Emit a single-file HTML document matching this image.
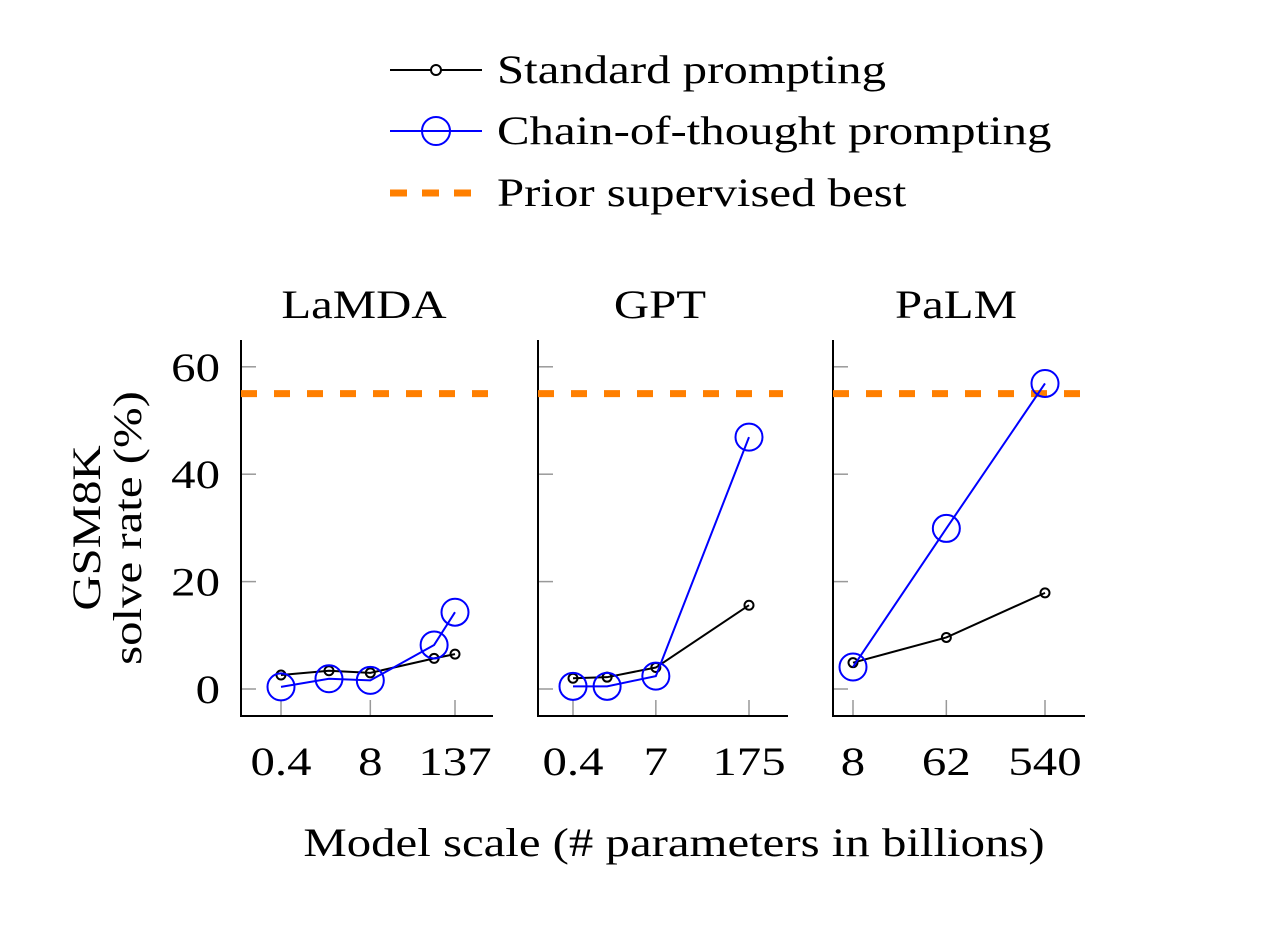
<!DOCTYPE html>
<html><head><meta charset="utf-8"><style>
body{margin:0;background:#fff}
svg{display:block}
text{font-family:"Liberation Serif",serif;fill:#000}
</style></head><body>
<svg id="chart" width="1262" height="940" viewBox="0 0 1262 940">
<g>
 <g>
  <line x1="390" y1="70" x2="482" y2="70" stroke="#000" stroke-width="2"/>
  <circle cx="436" cy="70" r="5" fill="#fff" stroke="#000" stroke-width="2"/>
  <text x="497" y="83" font-size="40">Standard prompting</text>
 </g>
 <g>
  <line x1="390" y1="131" x2="482" y2="131" stroke="#00f" stroke-width="2"/>
  <circle cx="436" cy="131" r="14" fill="none" stroke="#00f" stroke-width="2"/>
  <text x="497" y="144" font-size="40">Chain-of-thought prompting</text>
 </g>
 <g>
  <line x1="390" y1="193" x2="482" y2="193" stroke="#ff7f00" stroke-width="7" stroke-dasharray="17,15"/>
  <text x="497" y="206" font-size="40">Prior supervised best</text>
 </g>
</g>
<g id="panels"></g>
<text x="674" y="856" font-size="40" text-anchor="middle">Model scale (# parameters in billions)</text>
<g transform="translate(100,528) rotate(-90)">
 <text x="0" y="0" font-size="40" text-anchor="middle">GSM8K</text>
 <text x="0" y="41" font-size="40" text-anchor="middle">solve rate (%)</text>
</g>
</svg>
<script>
const panelNames = ["LaMDA","GPT","PaLM"];
const lamdaScale = [0.4,2,8,68,137];
const lamdaStd = [2.6,3.4,3.0,5.7,6.5];
const lamdaCot = [0.4,1.9,1.6,8.2,14.3];
const lamdaTicks = [0.4,8,137];
const gptScale = [0.4,1.3,7,175];
const gptStd = [2.0,2.2,4.0,15.6];
const gptCot = [0.5,0.5,2.4,46.9];
const gptTicks = [0.4,7,175];
const palmScale = [8,62,540];
const palmStd = [4.9,9.6,17.9];
const palmCot = [4.1,29.9,56.9];
const palmTicks = [8,62,540];
const priorBest = [55,55,55];
const yTicks = [0,20,40,60];

const NS="http://www.w3.org/2000/svg";
const root=document.getElementById('panels');
function mk(tag,attrs,parent){const e=document.createElementNS(NS,tag);for(const k in attrs)e.setAttribute(k,attrs[k]);parent.appendChild(e);return e;}
const yS=v=>689-v*5.37;
const panels=[
 {name:panelNames[0],left:241,right:493,x0:281,x1:455,lo:0.4,hi:137,xs:lamdaScale,std:lamdaStd,cot:lamdaCot,ticks:lamdaTicks,pb:priorBest[0]},
 {name:panelNames[1],left:538,right:788,x0:573,x1:749,lo:0.4,hi:175,xs:gptScale,std:gptStd,cot:gptCot,ticks:gptTicks,pb:priorBest[1]},
 {name:panelNames[2],left:833,right:1085,x0:853,x1:1045,lo:8,hi:540,xs:palmScale,std:palmStd,cot:palmCot,ticks:palmTicks,pb:priorBest[2]}
];
panels.forEach(p=>{
 const xS=v=>p.x0+(Math.log10(v)-Math.log10(p.lo))/(Math.log10(p.hi)-Math.log10(p.lo))*(p.x1-p.x0);
 const g=mk('g',{},root);
 
 
 const t=mk('text',{x:(p.left+p.right)/2-3,y:318,'font-size':40,'text-anchor':'middle'},g);t.textContent=p.name;
 
 
 yTicks.forEach(v=>{
  const l=mk('line',{x1:p.left,x2:p.left+15,y1:yS(v),y2:yS(v),stroke:'#999','stroke-width':1.5},g);
  
  
  if(p.left===241){const tl=mk('text',{x:220,y:yS(v)+14,'font-size':40,'text-anchor':'end'},g);tl.textContent=v;
   
   }
 });
 p.ticks.forEach(v=>{
  const l=mk('line',{x1:xS(v),x2:xS(v),y1:716,y2:700,stroke:'#999','stroke-width':1.5},g);
  
  
  const tl=mk('text',{x:xS(v),y:775,'font-size':40,'text-anchor':'middle'},g);tl.textContent=v;
  
  
 });
 const ax=mk('path',{d:`M${p.left},340 V716 H${p.right}`,fill:'none',stroke:'#000','stroke-width':2},g);
 
 
 const d=mk('line',{x1:p.left,x2:p.right-5,y1:yS(p.pb),y2:yS(p.pb),stroke:'#ff7f00','stroke-width':7,'stroke-dasharray':'16,17'},g);
 
 
 const sl=mk('polyline',{points:p.xs.map((x,i)=>xS(x)+','+yS(p.std[i])).join(' '),fill:'none',stroke:'#000','stroke-width':2},g);
 
 
 p.xs.forEach((x,i)=>{const c=mk('circle',{cx:xS(x),cy:yS(p.std[i]),r:4.5,fill:'none',stroke:'#000','stroke-width':2},g);
  
  });
 const cl=mk('polyline',{points:p.xs.map((x,i)=>xS(x)+','+yS(p.cot[i])).join(' '),fill:'none',stroke:'#00f','stroke-width':2},g);
 
 
 p.xs.forEach((x,i)=>{const c=mk('circle',{cx:xS(x),cy:yS(p.cot[i]),r:13.5,fill:'none',stroke:'#00f','stroke-width':2},g);
  
  });
});
document.querySelectorAll('#chart text').forEach(t=>{
 const w=t.getComputedTextLength();
 t.setAttribute('textLength',(w*1.22).toFixed(1));
 t.setAttribute('lengthAdjust','spacingAndGlyphs');
});
</script>
</body></html>
